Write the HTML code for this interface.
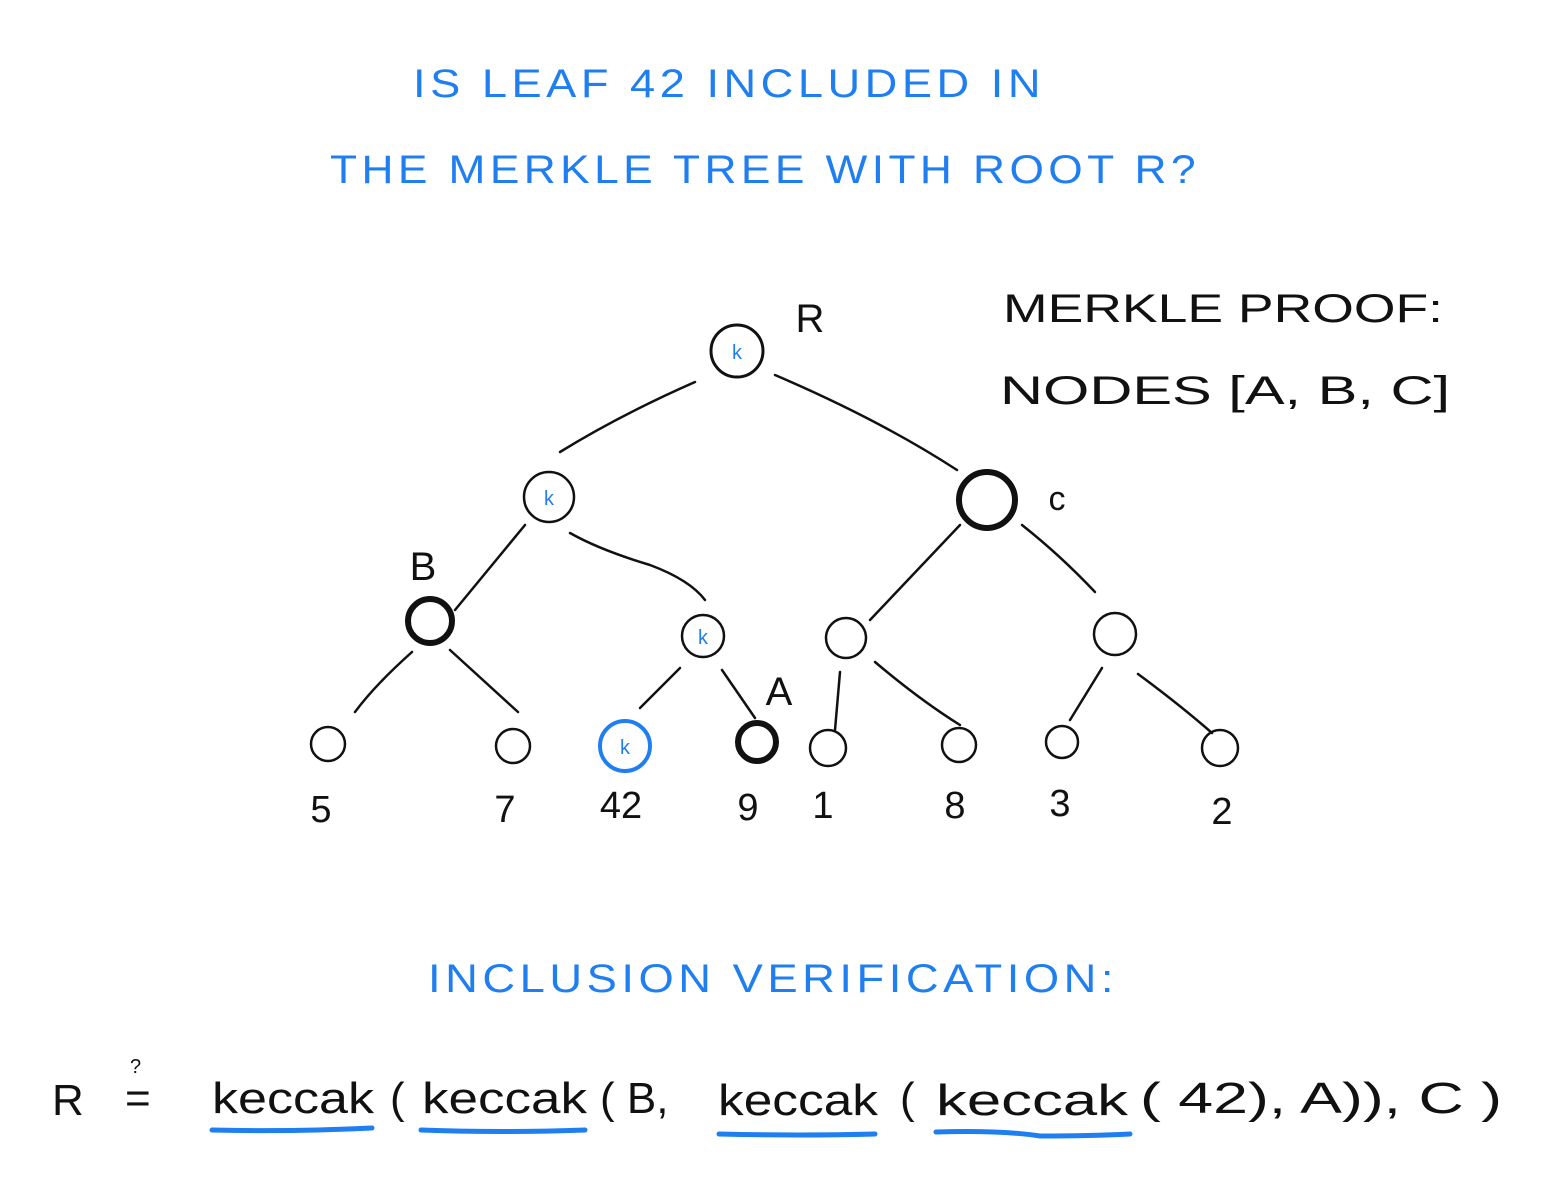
<!DOCTYPE html>
<html><head><meta charset="utf-8"><style>
html,body{margin:0;padding:0;background:#fff;}
svg{display:block;}
text{font-family:"Liberation Sans",sans-serif;}
</style></head><body>
<svg width="1562" height="1189" viewBox="0 0 1562 1189" xmlns="http://www.w3.org/2000/svg">
<g fill="#1f7ef0" font-size="40" letter-spacing="4">
<text x="413" y="97" textLength="632" lengthAdjust="spacingAndGlyphs">IS  LEAF  42  INCLUDED  IN</text>
<text x="330" y="183" textLength="870" lengthAdjust="spacingAndGlyphs">THE  MERKLE  TREE  WITH  ROOT  R?</text>
<text x="428" y="992" textLength="690" lengthAdjust="spacingAndGlyphs">INCLUSION   VERIFICATION:</text>
</g>
<g fill="#111" font-size="40">
<text x="1003" y="322" textLength="440" lengthAdjust="spacingAndGlyphs">MERKLE  PROOF:</text>
<text x="1000" y="404" textLength="450" lengthAdjust="spacingAndGlyphs">NODES  [A, B, C]</text>
</g>
<g stroke="#111" stroke-width="2.5" fill="none" stroke-linecap="round">
<path d="M695 382 Q620 415 560 452"/>
<path d="M775 375 Q880 420 957 470"/>
<path d="M525 525 L455 610"/>
<path d="M570 533 Q600 550 650 565 Q690 580 705 600"/>
<path d="M960 525 L870 620"/>
<path d="M1022 525 Q1060 555 1095 592"/>
<path d="M412 652 Q375 685 355 712"/>
<path d="M450 650 L518 712"/>
<path d="M680 668 L640 708"/>
<path d="M722 670 L755 718"/>
<path d="M840 672 L835 730"/>
<path d="M875 662 Q920 700 960 725"/>
<path d="M1102 668 L1070 720"/>
<path d="M1138 674 Q1180 705 1212 733"/>
</g>
<g stroke="#111" fill="none">
<circle cx="737" cy="351" r="26" stroke-width="3"/>
<circle cx="549" cy="497" r="25" stroke-width="2.5"/>
<circle cx="987" cy="500" r="28" stroke-width="6"/>
<circle cx="430" cy="621" r="22" stroke-width="6"/>
<circle cx="703" cy="636" r="21" stroke-width="2.5"/>
<circle cx="846" cy="638" r="20" stroke-width="2.5"/>
<circle cx="1115" cy="634" r="21" stroke-width="2.5"/>
<circle cx="328" cy="744" r="17" stroke-width="2.5"/>
<circle cx="513" cy="746" r="17" stroke-width="2.5"/>
<circle cx="757" cy="742" r="19" stroke-width="6"/>
<circle cx="828" cy="748" r="18" stroke-width="2.5"/>
<circle cx="959" cy="745" r="17" stroke-width="2.5"/>
<circle cx="1062" cy="742" r="16" stroke-width="2.5"/>
<circle cx="1220" cy="748" r="18" stroke-width="2.5"/>
<circle cx="625" cy="746" r="25" stroke="#1f7ef0" stroke-width="4"/>
</g>
<g fill="#1f7ef0" font-size="20" text-anchor="middle">
<text x="737" y="359">k</text>
<text x="549" y="505">k</text>
<text x="703" y="644">k</text>
<text x="625" y="754">k</text>
</g>
<g fill="#111" font-size="40" text-anchor="middle">
<text x="810" y="332">R</text>
<text x="1057" y="510" font-size="34">c</text>
<text x="423" y="580">B</text>
<text x="779" y="705">A</text>
<g font-size="38">
<text x="321" y="822">5</text>
<text x="505" y="822">7</text>
<text x="621" y="818">42</text>
<text x="748" y="820">9</text>
<text x="823" y="818">1</text>
<text x="955" y="818">8</text>
<text x="1060" y="816">3</text>
<text x="1222" y="824">2</text>
</g>
</g>
<g fill="#111" font-size="44">
<text x="52" y="1115">R</text>
<text x="125" y="1113">=</text>
<text x="130" y="1073" font-size="20">?</text>
<text x="212" y="1113" textLength="162" lengthAdjust="spacingAndGlyphs">keccak</text>
<text x="390" y="1113">(</text>
<text x="422" y="1113" textLength="165" lengthAdjust="spacingAndGlyphs">keccak</text>
<text x="600" y="1113">( B,</text>
<text x="718" y="1115" textLength="160" lengthAdjust="spacingAndGlyphs">keccak</text>
<text x="900" y="1113">(</text>
<text x="936" y="1115" textLength="192" lengthAdjust="spacingAndGlyphs">keccak</text>
<text x="1140" y="1113" textLength="362" lengthAdjust="spacingAndGlyphs">( 42), A)), C )</text>
</g>
<g stroke="#1f7ef0" stroke-width="5" fill="none" stroke-linecap="round">
<path d="M212 1130 Q290 1132 372 1128"/>
<path d="M421 1130 Q500 1133 585 1130"/>
<path d="M719 1134 Q800 1136 875 1134"/>
<path d="M936 1132 Q1000 1130 1040 1136 Q1090 1136 1130 1134"/>
</g>
</svg>
</body></html>
